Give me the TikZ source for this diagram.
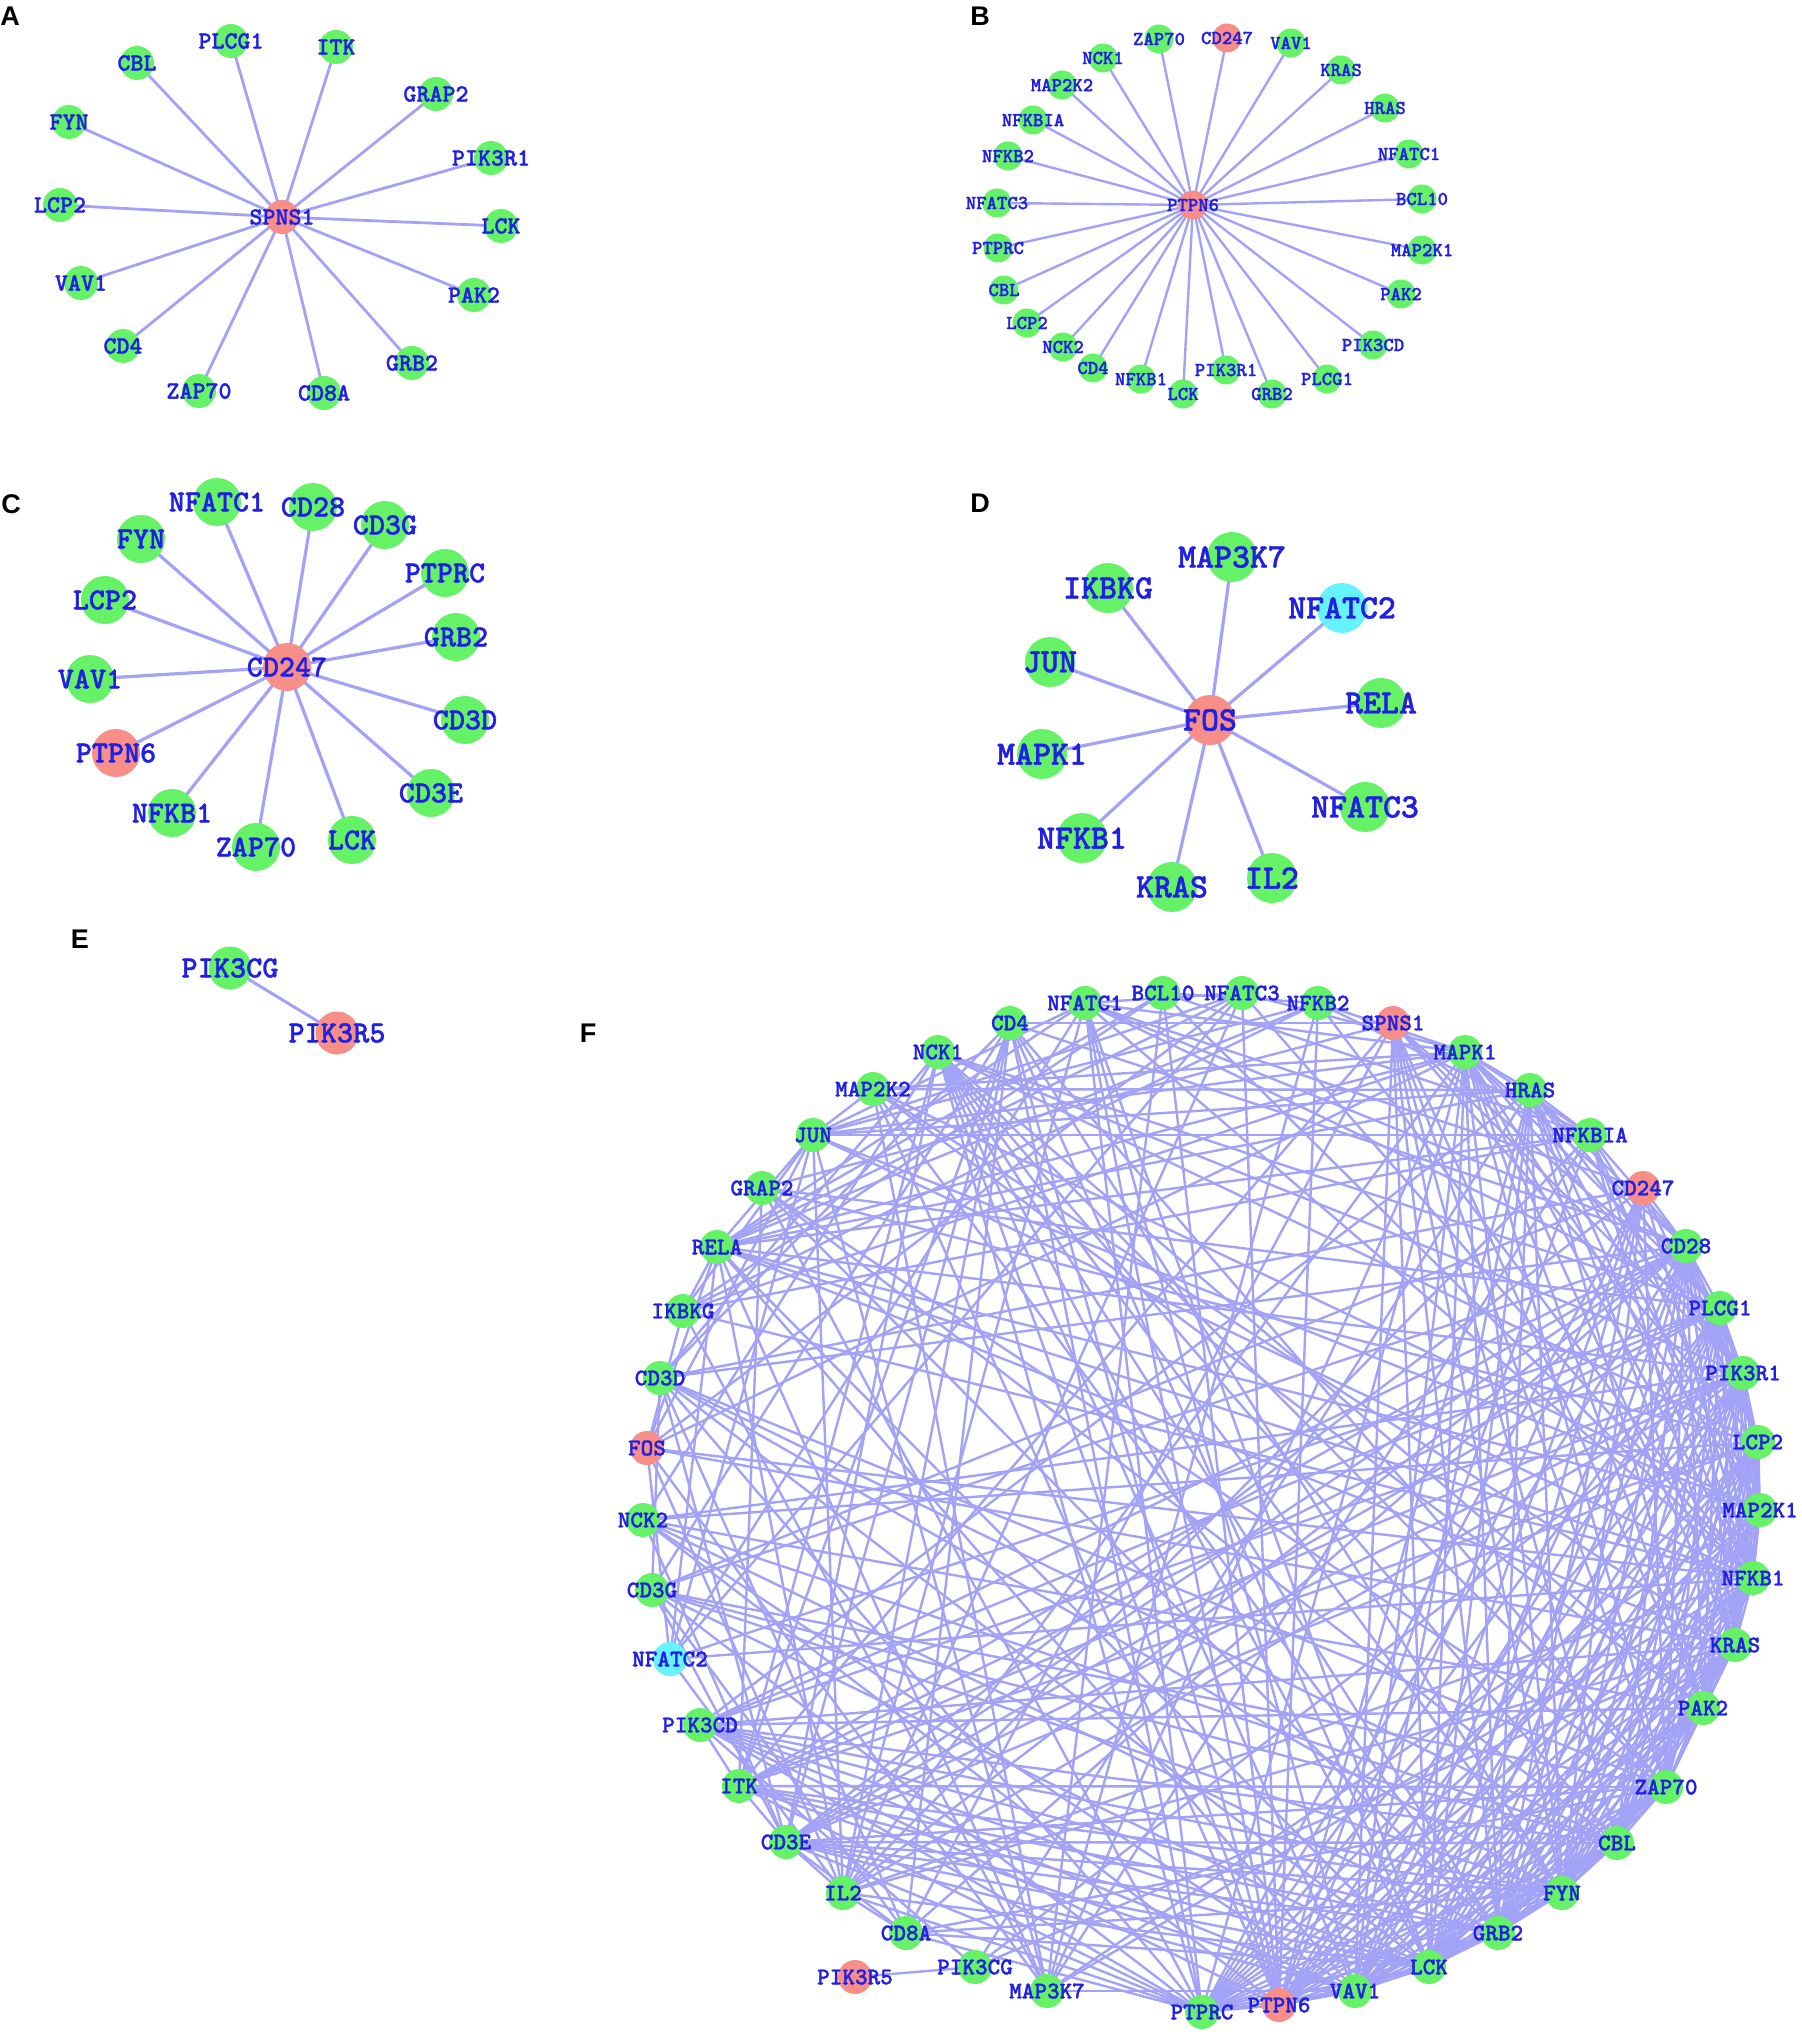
\documentclass[tikz,border=0pt]{standalone}
\usepackage{fontspec}
\newfontfamily\lfont{Liberation Sans}
\IfFontExistsTF{lmmonolt10-bold.otf}
  {\newfontfamily\gfont{lmmonolt10-bold.otf}[FakeBold=1.2]}
  {\newfontfamily\gfont{lmmono10-regular.otf}[FakeBold=2.5]}
\usetikzlibrary{backgrounds}
\definecolor{ngreen}{RGB}{102,242,102}
\definecolor{npink}{RGB}{248,142,136}
\definecolor{ncyan}{RGB}{102,242,255}
\definecolor{ecol}{RGB}{162,162,246}
\definecolor{tblue}{RGB}{32,32,228}
\tikzset{
  gnode/.style={circle, inner sep=0pt, draw=none, minimum size=#1},
  glab/.style={text=tblue, inner sep=0pt, font=\gfont\fontsize{#1}{#1}\selectfont},
  edg/.style={draw=ecol, line width=#1},
  plet/.style={font=\lfont\bfseries\fontsize{13.5}{13.5}\selectfont, inner sep=0pt}
}
\begin{document}
\begin{tikzpicture}[x=0.5pt,y=-0.5pt]
\useasboundingbox (0,0) rectangle (1801,2032);
% panel letters
\node[plet] (letA) at (10,16) {A};
\node[plet] (letB) at (980,16) {B};
\node[plet] (letC) at (11,504) {C};
\node[plet] (letD) at (980,503) {D};
\node[plet] (letE) at (80,939) {E};
\node[plet] (letF) at (588,1033) {F};

% ---------- Panel A ----------
\foreach \n/\x/\y/\c in {SPNS1/282/217/npink, PLCG1/231/41/ngreen, ITK/336/47/ngreen, CBL/137/63/ngreen,
  GRAP2/436/94/ngreen, FYN/69/122/ngreen, PIK3R1/491/158/ngreen, LCP2/60/205/ngreen, LCK/501/226/ngreen,
  VAV1/81/283/ngreen, PAK2/474/295/ngreen, CD4/123/346/ngreen, GRB2/412/363/ngreen, ZAP70/199/391/ngreen,
  CD8A/324/393/ngreen}
  \node[gnode=17pt, fill=\c, label={[glab=12.4]center:\n}] (A\n) at (\x,\y) {};
\begin{scope}[on background layer]
\fill[white] (0,0) rectangle (1801,2032);
\foreach \n in {PLCG1,ITK,CBL,GRAP2,FYN,PIK3R1,LCP2,LCK,VAV1,PAK2,CD4,GRB2,ZAP70,CD8A}
  \draw[edg=1.4pt] (ASPNS1.center) -- (A\n.center);
\end{scope}

% ---------- Panel B ----------
\foreach \n/\x/\y/\c in {PTPN6/1193/205/npink, ZAP70/1159/39/ngreen, CD247/1227/38/npink, VAV1/1291/43/ngreen,
  NCK1/1103/58/ngreen, KRAS/1341/70/ngreen, MAP2K2/1062/85/ngreen, HRAS/1385/108/ngreen,
  NFKBIA/1033/120/ngreen, NFATC1/1409/154/ngreen, NFKB2/1008/156/ngreen, NFATC3/997/203/ngreen,
  BCL10/1422/199/ngreen, PTPRC/998/248/ngreen, MAP2K1/1422/250/ngreen, CBL/1004/290/ngreen,
  PAK2/1401/294/ngreen, LCP2/1027/323/ngreen, PIK3CD/1373/345/ngreen, NCK2/1063/347/ngreen,
  CD4/1093/368/ngreen, NFKB1/1141/379/ngreen, PIK3R1/1226/370/ngreen, PLCG1/1327/379/ngreen,
  LCK/1183/394/ngreen, GRB2/1272/394/ngreen}
  \node[gnode=14.5pt, fill=\c, label={[glab=9.9]center:\n}] (B\n) at (\x,\y) {};
\begin{scope}[on background layer]
\foreach \n in {ZAP70,CD247,VAV1,NCK1,KRAS,MAP2K2,HRAS,NFKBIA,NFATC1,NFKB2,NFATC3,BCL10,PTPRC,MAP2K1,
  CBL,PAK2,LCP2,PIK3CD,NCK2,CD4,NFKB1,PIK3R1,PLCG1,LCK,GRB2}
  \draw[edg=1.2pt] (BPTPN6.center) -- (B\n.center);
\end{scope}

% ---------- Panel C ----------
\foreach \n/\x/\y/\c in {CD247/287/667/npink, NFATC1/217/502/ngreen, CD28/313/507/ngreen, CD3G/385/525/ngreen,
  FYN/141/539/ngreen, PTPRC/445/573/ngreen, LCP2/105/600/ngreen, GRB2/456/637/ngreen, VAV1/90/679/ngreen,
  CD3D/465/720/ngreen, PTPN6/116/753/npink, CD3E/431/793/ngreen, NFKB1/172/813/ngreen, LCK/352/840/ngreen,
  ZAP70/256/847/ngreen}
  \node[gnode=24pt, fill=\c, label={[glab=15.3]center:\n}] (C\n) at (\x,\y) {};
\begin{scope}[on background layer]
\foreach \n in {NFATC1,CD28,CD3G,FYN,PTPRC,LCP2,GRB2,VAV1,CD3D,PTPN6,CD3E,NFKB1,LCK,ZAP70}
  \draw[edg=1.6pt] (CCD247.center) -- (C\n.center);
\end{scope}

% ---------- Panel D ----------
\foreach \n/\x/\y/\c in {FOS/1210/720/npink, MAP3K7/1232/557/ngreen, IKBKG/1108/588/ngreen, NFATC2/1342/608/ncyan,
  JUN/1050/662/ngreen, RELA/1381/703/ngreen, MAPK1/1042/754/ngreen, NFATC3/1365/807/ngreen,
  NFKB1/1082/838/ngreen, KRAS/1172/887/ngreen, IL2/1272/878/ngreen}
  \node[gnode=25pt, fill=\c, label={[glab=17.1]center:\n}] (D\n) at (\x,\y) {};
\begin{scope}[on background layer]
\foreach \n in {MAP3K7,IKBKG,NFATC2,JUN,RELA,MAPK1,NFATC3,NFKB1,KRAS,IL2}
  \draw[edg=1.6pt] (DFOS.center) -- (D\n.center);
\end{scope}

% ---------- Panel E ----------
\node[gnode=21.5pt, fill=ngreen, label={[glab=15.4]center:PIK3CG}] (EPIK3CG) at (230,968) {};
\node[gnode=21.5pt, fill=npink, label={[glab=15.4]center:PIK3R5}] (EPIK3R5) at (337,1033) {};
\begin{scope}[on background layer]
\draw[edg=1.5pt] (EPIK3CG.center) -- (EPIK3R5.center);
\end{scope}

% ---------- Panel F ----------
\foreach \n/\x/\y/\c in {NCK1/938/1052/ngreen, CD4/1010/1023/ngreen, NFATC1/1085/1003/ngreen, BCL10/1163/993/ngreen,
  NFATC3/1242/993/ngreen, NFKB2/1318/1003/ngreen, SPNS1/1393/1023/npink, MAPK1/1465/1052/ngreen,
  HRAS/1530/1090/ngreen, NFKBIA/1590/1135/ngreen, CD247/1643/1188/npink, CD28/1686/1246/ngreen,
  PLCG1/1720/1308/ngreen, PIK3R1/1743/1373/ngreen, LCP2/1758/1442/ngreen, MAP2K1/1760/1510/ngreen,
  NFKB1/1753/1578/ngreen, KRAS/1735/1645/ngreen, PAK2/1703/1708/ngreen, ZAP70/1666/1787/ngreen,
  CBL/1617/1843/ngreen, FYN/1562/1893/ngreen, GRB2/1498/1933/ngreen, LCK/1429/1967/ngreen,
  VAV1/1355/1991/ngreen, PTPN6/1279/2005/npink, PTPRC/1202/2012/ngreen, MAP3K7/1047/1991/ngreen,
  PIK3CG/975/1967/ngreen, PIK3R5/855/1977/npink, CD8A/906/1933/ngreen, IL2/843/1893/ngreen,
  CD3E/786/1842/ngreen, ITK/739/1786/ngreen, PIK3CD/700/1725/ngreen, NFATC2/670/1659/ncyan,
  CD3G/652/1590/ngreen, NCK2/643/1520/ngreen, FOS/647/1448/npink, CD3D/660/1378/ngreen,
  IKBKG/683/1311/ngreen, RELA/717/1247/ngreen, GRAP2/762/1188/ngreen, JUN/813/1135/ngreen,
  MAP2K2/873/1089/ngreen}
  \node[gnode=17pt, fill=\c, label={[glab=12]center:\n}] (F\n) at (\x,\y) {};
\begin{scope}[on background layer]
\foreach \a/\bs in {
 SPNS1/{PLCG1,ITK,CBL,GRAP2,FYN,PIK3R1,LCP2,LCK,VAV1,PAK2,CD4,GRB2,ZAP70,CD8A},
 PTPN6/{ZAP70,CD247,VAV1,NCK1,KRAS,MAP2K2,HRAS,NFKBIA,NFATC1,NFKB2,BCL10,NFATC3,MAP2K1,PTPRC,PAK2,CBL,PIK3CD,LCP2,NCK2,CD4,PLCG1,NFKB1,PIK3R1,LCK,GRB2},
 CD247/{NFATC1,CD28,FYN,CD3G,PTPRC,LCP2,GRB2,VAV1,CD3D,CD3E,NFKB1,LCK,ZAP70},
 FOS/{MAP3K7,IKBKG,NFATC2,JUN,RELA,MAPK1,NFATC3,NFKB1,KRAS,IL2},
 PIK3R5/{PIK3CG},
 LCK/{ZAP70,FYN,CD4,CD8A,CD3D,CD3E,CD3G,CD28,PTPRC,LCP2,VAV1,PLCG1,CBL,GRB2,PIK3R1,ITK,NCK1,PAK2,KRAS,HRAS,MAPK1,MAP2K1,NFKB1,NFATC1,RELA,IL2,PIK3CD},
 ZAP70/{FYN,CD3D,CD3E,CD3G,CD4,CD8A,LCP2,VAV1,PLCG1,CBL,GRB2,PIK3R1,ITK,GRAP2,NCK1,PTPRC,KRAS,MAPK1,NFKB1,CD28,PAK2},
 FYN/{CD4,CD8A,CD3D,CD3E,CD3G,CD28,PTPRC,LCP2,VAV1,PLCG1,CBL,GRB2,PIK3R1,PIK3CD,ITK,NCK1,PAK2,KRAS,HRAS,MAPK1,MAP2K1,NFKB1},
 GRB2/{LCP2,VAV1,PLCG1,CBL,PIK3R1,PIK3CD,CD28,GRAP2,NCK1,NCK2,PAK2,KRAS,HRAS,MAPK1,MAP2K1,MAP2K2,PTPRC,CD3E,ITK,NFKB1},
 CBL/{LCP2,VAV1,PLCG1,PIK3R1,PIK3CD,CD28,GRAP2,NCK1,NCK2,CD3E,CD3G,CD3D,KRAS,PAK2,PTPRC,NFKB1,MAP2K1},
 VAV1/{LCP2,PLCG1,PIK3R1,PIK3CD,CD28,PAK2,NCK1,NCK2,ITK,KRAS,HRAS,MAPK1,NFATC1,NFKB1,RELA,MAP3K7,CD3E,PTPRC},
 PLCG1/{LCP2,PIK3R1,PIK3CD,CD28,GRAP2,ITK,NCK1,KRAS,HRAS,MAPK1,MAP2K1,NFATC1,NFATC2,CD3E,PTPRC,PAK2,NFKB1},
 PIK3R1/{PIK3CD,PIK3CG,CD28,LCP2,NCK1,NCK2,ITK,KRAS,HRAS,MAPK1,MAP2K1,PAK2,CD3E,PTPRC,NFKB1,RELA,NFKBIA,IL2},
 LCP2/{ITK,GRAP2,NCK1,NCK2,PAK2,CD28,CD3E,PTPRC,MAP2K1,NFKB1,KRAS},
 MAPK1/{MAP2K1,MAP2K2,KRAS,HRAS,JUN,RELA,NFKB1,NFKBIA,NFATC1,NFATC3,PAK2,MAP3K7,IKBKG,IL2,CD28,PTPRC,NFKB2},
 MAP2K1/{MAP2K2,KRAS,HRAS,PAK2,MAP3K7,NFKB1,NFKBIA,JUN,RELA,CD28,PTPRC},
 KRAS/{HRAS,PAK2,MAP2K2,NFKB1,PIK3CD,PIK3CG,RELA,NFKBIA,IL2,CD28,PTPRC},
 HRAS/{PAK2,MAP2K2,PIK3CD,PIK3CG,NFKB1,NFKBIA,RELA,JUN,CD28},
 NFKB1/{RELA,NFKBIA,NFKB2,IKBKG,MAP3K7,BCL10,JUN,IL2,NFATC1,NFATC2,NFATC3,CD28,PTPRC,PAK2},
 NFKBIA/{RELA,NFKB2,IKBKG,MAP3K7,BCL10,JUN,IL2,CD28},
 RELA/{NFKB2,IKBKG,MAP3K7,BCL10,JUN,IL2,NFATC1,NFATC2,NFATC3},
 IKBKG/{MAP3K7,BCL10,NFKB2,JUN},
 MAP3K7/{BCL10,NFKB2,JUN,MAP2K2},
 NFATC1/{NFATC2,NFATC3,JUN,IL2,CD28,PTPRC},
 NFATC2/{NFATC3,JUN,IL2},
 NFATC3/{JUN,IL2},
 JUN/{IL2,MAP2K2,NFKB2},
 IL2/{CD28,CD4,CD8A,PTPRC,CD3E},
 CD28/{PIK3CD,CD3E,CD3D,CD3G,PTPRC,CD4,CD8A,ITK,PAK2},
 PTPRC/{CD4,CD8A,CD3D,CD3E,CD3G,ITK,PIK3CD,PAK2,NCK1,GRAP2},
 CD3E/{CD3D,CD3G,CD4,CD8A,NCK1,NCK2,ITK},
 CD3D/{CD3G,CD4,CD8A,NCK1},
 CD3G/{CD4,CD8A},
 CD4/{CD8A,ITK},
 NCK1/{NCK2,PAK2,ITK},
 NCK2/{PAK2},
 PAK2/{PIK3CD,MAP2K2},
 PIK3CD/{PIK3CG,ITK},
 ITK/{GRAP2},
 BCL10/{NFKB2}}
  \foreach \b in \bs
    \draw[edg=1.2pt] (F\a.center) -- (F\b.center);
\end{scope}
\end{tikzpicture}
\end{document}
